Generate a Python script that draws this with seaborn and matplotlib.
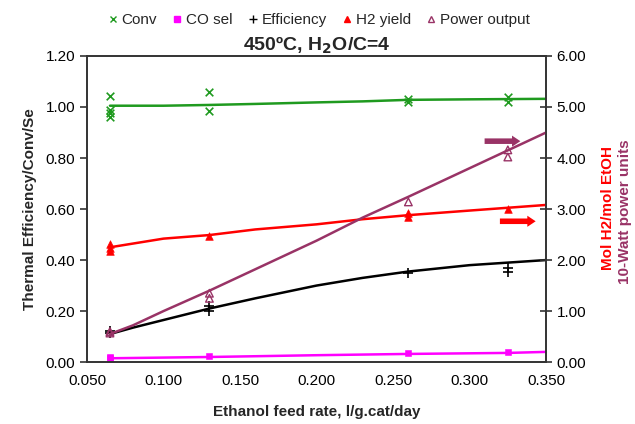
import numpy as np
import matplotlib
matplotlib.use("Agg")
import matplotlib.pyplot as plt
import seaborn as sns
from matplotlib.lines import Line2D

# measured points
conv_x = [0.065, 0.065, 0.065, 0.065, 0.130, 0.130, 0.260, 0.260, 0.325, 0.325]
conv_y = [1.045, 0.99, 0.975, 0.96, 1.06, 0.985, 1.03, 1.02, 1.04, 1.02]
co_x = [0.065, 0.065, 0.130, 0.260, 0.325]
co_y = [0.015, 0.02, 0.022, 0.035, 0.04]
eff_x = [0.065, 0.065, 0.130, 0.130, 0.260, 0.325, 0.325]
eff_y = [0.12, 0.115, 0.22, 0.20, 0.35, 0.37, 0.355]
h2_x = [0.065, 0.065, 0.065, 0.130, 0.260, 0.260, 0.325]
h2_y = [2.31, 2.24, 2.17, 2.48, 2.92, 2.85, 3.01]
pow_x = [0.065, 0.065, 0.130, 0.130, 0.260, 0.325, 0.325]
pow_y = [0.60, 0.57, 1.35, 1.25, 3.14, 4.16, 4.02]

# trend lines
conv_lx = [0.065, 0.10, 0.13, 0.16, 0.20, 0.23, 0.26, 0.30, 0.35]
conv_ly = [1.005, 1.005, 1.008, 1.012, 1.018, 1.022, 1.028, 1.03, 1.032]
co_lx = [0.065, 0.13, 0.20, 0.26, 0.325, 0.35]
co_ly = [0.015, 0.02, 0.027, 0.032, 0.036, 0.04]
eff_lx = [0.065, 0.08, 0.10, 0.13, 0.16, 0.20, 0.23, 0.26, 0.30, 0.35]
eff_ly = [0.11, 0.135, 0.165, 0.21, 0.25, 0.30, 0.33, 0.355, 0.38, 0.40]
h2_lx = [0.065, 0.10, 0.13, 0.16, 0.20, 0.23, 0.26, 0.30, 0.35]
h2_ly = [2.25, 2.42, 2.49, 2.60, 2.70, 2.80, 2.88, 2.97, 3.08]
pow_lx = [0.065, 0.08, 0.10, 0.13, 0.16, 0.20, 0.23, 0.26, 0.30, 0.35]
pow_ly = [0.55, 0.72, 1.0, 1.40, 1.82, 2.38, 2.83, 3.24, 3.80, 4.50]

GREEN = "#1f9a1f"
MAG = "#ff00ff"
RED = "#ff0000"
PURP = "#993366"

sns.set_style("white")
plt.rcParams["font.family"] = ["Liberation Sans", "DejaVu Sans"]

fig = plt.figure(figsize=(6.35, 4.24), dpi=100)
ax = fig.add_axes([0.137, 0.146, 0.723, 0.722])
ax2 = ax.twinx()

sns.lineplot(x=conv_lx, y=conv_ly, ax=ax, color=GREEN, lw=1.8)
sns.lineplot(x=co_lx, y=co_ly, ax=ax, color=MAG, lw=1.8)
sns.lineplot(x=eff_lx, y=eff_ly, ax=ax, color="black", lw=1.8)
sns.scatterplot(x=conv_x, y=conv_y, ax=ax, marker="x", color=GREEN, s=30, linewidth=1.2)
sns.scatterplot(x=co_x, y=co_y, ax=ax, marker="s", color=MAG, s=25, edgecolor=MAG)
sns.scatterplot(x=eff_x, y=eff_y, ax=ax, marker="+", color="black", s=45, linewidth=1.2)

sns.lineplot(x=h2_lx, y=h2_ly, ax=ax2, color=RED, lw=1.8)
sns.lineplot(x=pow_lx, y=pow_ly, ax=ax2, color=PURP, lw=1.8)
sns.scatterplot(x=h2_x, y=h2_y, ax=ax2, marker="^", color=RED, s=30, edgecolor=RED)
ax2.scatter(pow_x, pow_y, marker="^", facecolors="none", edgecolors=PURP, s=30, lw=1)

ax.set_xlim(0.05, 0.35)
ax.set_ylim(0, 1.2)
ax2.set_ylim(0, 6)
ax.set_xticks(np.arange(0.05, 0.351, 0.05))
ax.set_yticks(np.arange(0, 1.21, 0.2))
ax2.set_yticks(np.arange(0, 6.01, 1))
ax.xaxis.set_major_formatter(matplotlib.ticker.FormatStrFormatter("%.3f"))
ax.yaxis.set_major_formatter(matplotlib.ticker.FormatStrFormatter("%.2f"))
ax2.yaxis.set_major_formatter(matplotlib.ticker.FormatStrFormatter("%.2f"))

for a in (ax, ax2):
    for s in a.spines.values():
        s.set_color("#333333")
        s.set_linewidth(1.2)
ax.tick_params(axis="x", direction="out", length=5, width=1.2, labelsize=11, colors="#333333", labelcolor="black")
ax.tick_params(axis="y", direction="out", length=5, width=1.2, labelsize=11, colors="#333333", labelcolor="black")
ax2.tick_params(axis="y", direction="inout", length=8, width=1.2, labelsize=11, colors="#333333", labelcolor="black")

ax.set_xlabel("Ethanol feed rate, l/g.cat/day", fontsize=11, fontweight="bold", labelpad=12)
ax.set_ylabel("Thermal Efficiency/Conv/Se", fontsize=11, fontweight="bold", labelpad=6)
ax.set_title("450ºC, H$_\\mathbf{2}$O/C=4", fontsize=14, fontweight="bold", pad=4)

fig.text(0.958, 0.51, "Mol H2/mol EtOH", rotation=90, color=RED, fontsize=11,
         fontweight="bold", ha="center", va="center")
fig.text(0.984, 0.50, "10-Watt power units", rotation=90, color=PURP, fontsize=11,
         fontweight="bold", ha="center", va="center")

# arrows pointing to right axis
ax2.annotate("", xy=(0.335, 4.33), xytext=(0.308, 4.33),
             arrowprops=dict(arrowstyle="simple,head_length=0.6,head_width=0.8,tail_width=0.4",
                             color=PURP, lw=0))
ax2.annotate("", xy=(0.345, 2.76), xytext=(0.318, 2.76),
             arrowprops=dict(arrowstyle="simple,head_length=0.6,head_width=0.8,tail_width=0.4",
                             color=RED, lw=0))

handles = [
    Line2D([], [], ls="none", marker="x", color=GREEN, ms=5),
    Line2D([], [], ls="none", marker="s", color=MAG, ms=5),
    Line2D([], [], ls="none", marker="+", color="black", ms=6),
    Line2D([], [], ls="none", marker="^", color=RED, ms=5),
    Line2D([], [], ls="none", marker="^", mfc="none", mec=PURP, ms=5),
]
fig.legend(handles, ["Conv", "CO sel", "Efficiency", "H2 yield", "Power output"],
           loc="center", bbox_to_anchor=(0.5, 0.953), ncol=5, frameon=False,
           fontsize=11, handletextpad=0.1, columnspacing=0.8, handlelength=1.0)

fig.savefig("out.png", dpi=100)
